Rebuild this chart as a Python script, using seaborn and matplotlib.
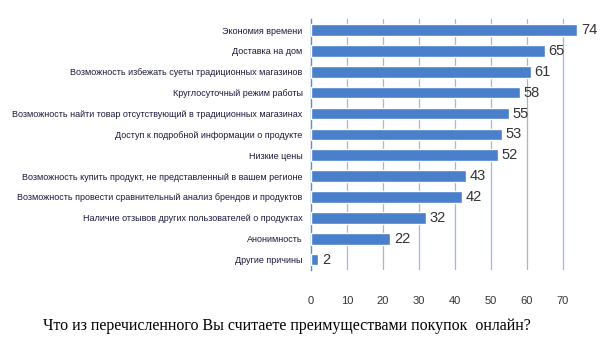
import matplotlib
matplotlib.use("Agg")
import matplotlib.pyplot as plt
import seaborn as sns
import pandas as pd

categories = [
    "Экономия времени",
    "Доставка на дом",
    "Возможность избежать суеты традиционных магазинов",
    "Круглосуточный режим работы",
    "Возможность найти товар отсутствующий в традиционных магазинах",
    "Доступ к подробной информации о продукте",
    "Низкие цены",
    "Возможность купить продукт, не представленный в вашем регионе",
    "Возможность провести сравнительный анализ брендов и продуктов",
    "Наличие отзывов других пользователей о продуктах",
    "Анонимность",
    "Другие причины",
]
values = [74, 65, 61, 58, 55, 53, 52, 43, 42, 32, 22, 2]
xticks = [0, 10, 20, 30, 40, 50, 60, 70]
title = "Что из перечисленного Вы считаете преимуществами покупок  онлайн?"

sns.set_style("white")
plt.rcParams["font.family"] = ["Liberation Sans", "DejaVu Sans"]

df = pd.DataFrame({"cat": categories, "val": values})

fig = plt.figure(figsize=(6.03, 3.46), dpi=100)
ax = fig.add_axes([311 / 603, 1 - 270 / 346, 288 / 603, 251 / 346])

sns.barplot(data=df, y="cat", x="val", orient="h", color="#4a7fcb",
            saturation=1, width=0.56, ax=ax, zorder=3)

ax.set_xlim(0, 80)
ax.set_ylim(11.5, -0.53)
ax.set_xticks(xticks)
ax.set_xticklabels([str(t) for t in xticks])
ax.tick_params(axis="x", length=0, pad=19, labelsize=8, labelcolor="#333333")
ax.tick_params(axis="y", length=0, pad=6, labelsize=6.5, labelcolor="#1a1a3a")
ax.set_xlabel("")
ax.set_ylabel("")

for t in xticks[1:]:
    ax.axvline(t, color="#9ab9de", lw=0.9, zorder=1)

for s in ["top", "right", "bottom"]:
    ax.spines[s].set_visible(False)
ax.spines["left"].set_color("#5a8ccf")
ax.spines["left"].set_linewidth(1.0)

for i, v in enumerate(values):
    ax.text(v + 1.0, i, str(v), va="center", ha="left", fontsize=10.5,
            color="#333333", zorder=4)

fig.text(287 / 603, 1 - 326 / 346, title, ha="center", va="center",
         fontsize=11.5, family=["Liberation Serif", "DejaVu Serif"], color="black")

fig.savefig("out.png", dpi=100, facecolor="white")
